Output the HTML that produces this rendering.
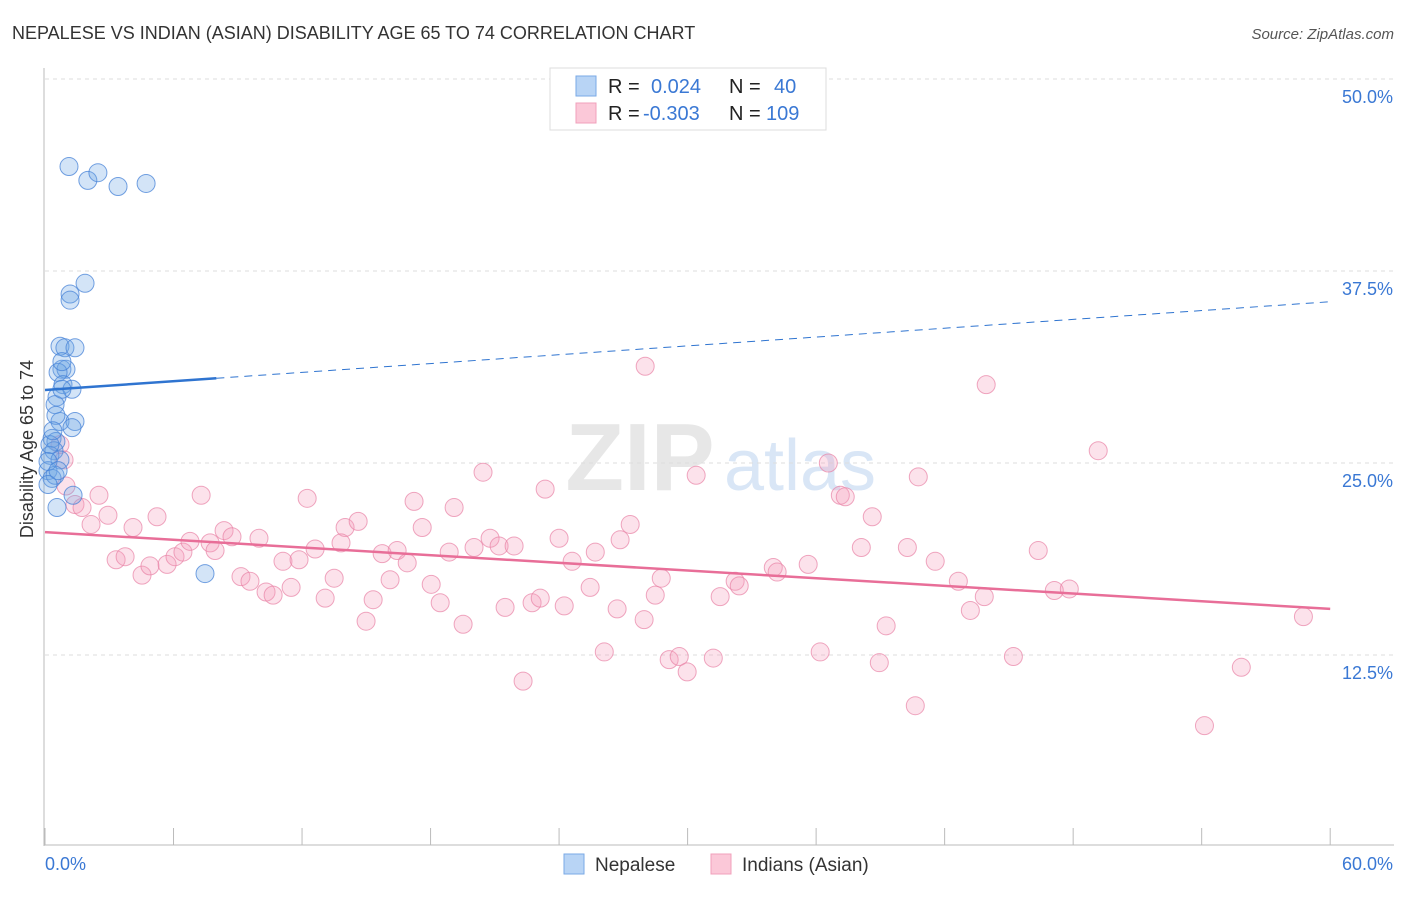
<!DOCTYPE html>
<html><head><meta charset="utf-8">
<style>
body{margin:0;background:#fff;font-family:"Liberation Sans",sans-serif;}
svg text{font-family:"Liberation Sans",sans-serif;}
</style></head>
<body>
<svg id="chart" width="1406" height="892" xmlns="http://www.w3.org/2000/svg">
<text x="12" y="39" font-size="18" fill="#333">NEPALESE VS INDIAN (ASIAN) DISABILITY AGE 65 TO 74 CORRELATION CHART</text>
<text x="1394" y="39" font-size="15" fill="#555" text-anchor="end" font-style="italic">Source: ZipAtlas.com</text>
<text x="640" y="490" font-size="96" fill="#ddd" font-family="Liberation Serif" text-anchor="middle" font-weight="bold" opacity="0.7">ZIP</text>
<text x="800" y="490" font-size="72" fill="#c9dcf3" text-anchor="middle" opacity="0.7">atlas</text>
<g id="grid"></g>
<g id="axes"></g>
<g id="marks"></g>
<text x="40" y="456" font-size="18" fill="#333" text-anchor="middle" transform="rotate(-90 33 456)">Disability Age 65 to 74</text>
<g>
<rect x="550" y="68" width="276" height="62" fill="#fff" stroke="#ddd"/>
<rect x="576" y="76" width="20" height="20" fill="#b8d4f5" stroke="#7aaae6"/>
<rect x="576" y="103" width="20" height="20" fill="#fbc8d8" stroke="#f0a0bb"/>
<text x="608" y="93" font-size="20" fill="#222">R = </text><text x="651" y="93" font-size="20" fill="#3a78d4">0.024</text>
<text x="729" y="93" font-size="20" fill="#222">N = </text><text x="774" y="93" font-size="20" fill="#3a78d4">40</text>
<text x="608" y="120" font-size="20" fill="#222">R = </text><text x="643" y="120" font-size="20" fill="#3a78d4">-0.303</text>
<text x="729" y="120" font-size="20" fill="#222">N = </text><text x="766" y="120" font-size="20" fill="#3a78d4">109</text>
</g>
<g>
<rect x="564" y="854" width="20" height="20" fill="#b8d4f5" stroke="#7aaae6"/>
<text x="595" y="871" font-size="19" fill="#333">Nepalese</text>
<rect x="711" y="854" width="20" height="20" fill="#fbc8d8" stroke="#f0a0bb"/>
<text x="742" y="871" font-size="19" fill="#333">Indians (Asian)</text>
</g>
</svg>
<script>
const yTicks=[12.5,25,37.5,50];
const yTickLabels=["12.5%","25.0%","37.5%","50.0%"];
const xTickLabels=["0.0%","60.0%"];
const blueX=[1.12,2.0,2.47,3.41,4.72,1.87,1.17,1.17,0.70,0.93,1.40,0.79,0.98,0.61,0.79,0.84,1.26,0.56,0.47,0.70,1.40,1.26,0.33,0.51,0.42,0.23,0.70,0.14,0.33,0.47,0.14,1.31,0.56,7.47,0.23,0.51,0.14,0.37,0.61,0.79];
const blueY=[44.3,43.4,43.9,43.0,43.2,36.7,36.0,35.6,32.6,32.5,32.5,31.1,31.1,30.9,31.6,30.1,29.8,29.3,28.8,27.7,27.7,27.3,26.6,26.4,25.8,25.5,25.2,24.5,24.0,24.2,23.6,22.9,22.1,17.8,26.2,28.1,25.1,27.1,24.5,29.8];
const pinkX=[0.98,0.89,0.70,1.40,1.73,2.52,2.15,2.94,3.32,3.74,4.11,4.53,4.90,5.23,5.70,6.07,6.44,6.77,7.29,7.71,7.94,8.36,8.73,9.15,9.57,9.99,10.32,10.65,11.11,11.49,11.86,12.24,12.61,13.08,13.50,14.01,13.82,14.62,14.99,15.32,15.74,16.11,16.44,16.91,17.23,17.61,18.03,18.45,18.87,19.10,19.52,20.03,20.45,20.78,21.20,21.48,21.90,22.32,22.74,23.12,23.35,24.00,24.24,24.61,25.45,25.69,26.11,26.71,26.85,27.32,27.97,28.02,28.49,28.77,29.14,29.61,29.98,30.40,31.20,31.52,32.22,32.41,34.00,34.18,35.63,36.19,36.57,37.13,37.36,38.62,38.11,38.95,39.27,40.26,40.63,40.77,41.56,42.64,43.20,43.85,43.94,45.21,46.37,47.12,47.82,49.17,55.85,54.13,58.75];
const pinkY=[23.5,25.2,26.2,22.3,22.1,22.9,21.0,21.6,18.7,18.9,20.8,17.7,18.3,21.5,18.4,18.9,19.2,19.9,22.9,19.8,19.3,20.6,20.2,17.6,17.3,20.1,16.6,16.4,18.6,16.9,18.7,22.7,19.4,16.2,17.5,20.8,19.8,21.2,14.7,16.1,19.1,17.4,19.3,18.5,22.5,20.8,17.1,15.9,19.2,22.1,14.5,19.5,24.4,20.1,19.6,15.6,19.6,10.8,15.9,16.2,23.3,20.1,15.7,18.6,16.9,19.2,12.7,15.5,20.0,21.0,14.8,31.3,16.4,17.5,12.2,12.4,11.4,24.2,12.3,16.3,17.3,17.0,18.2,17.9,18.4,12.7,25.0,22.9,22.8,21.5,19.5,12.0,14.4,19.5,9.2,24.1,18.6,17.3,15.4,16.3,30.1,12.4,19.3,16.7,16.8,25.8,11.7,7.9,15.0];
const blueLine=[29.75,35.5];
const pinkLine=[20.5,15.5];
const NS="http://www.w3.org/2000/svg";
const sx=v=>45+v*21.42, sy=v=>847-v*15.36;
function mk(tag,attrs,parent){const e=document.createElementNS(NS,tag);for(const k in attrs)e.setAttribute(k,attrs[k]);document.getElementById(parent).appendChild(e);return e;}
yTicks.forEach((t,i)=>{
 const g=mk('line',{x1:45,x2:1394,y1:sy(t),y2:sy(t),stroke:'#ddd','stroke-dasharray':'4,4'},'grid');
 
 
 const l=mk('text',{x:1393,y:sy(t)+24,'font-size':18,fill:'#3a78d4','text-anchor':'end'},'axes');
 l.textContent=yTickLabels[i];
 
 
});
const ya=mk('line',{x1:44,x2:44,y1:68,y2:846,stroke:'#bbb'},'axes');


const xa=mk('line',{x1:44,x2:1394,y1:845,y2:845,stroke:'#bbb'},'axes');


for(let i=0;i<=10;i++){const t=mk('line',{x1:sx(i*6),x2:sx(i*6),y1:828,y2:845,stroke:'#bbb'},'axes');
 
 }
[[0,45,'start'],[60,1393,'end']].forEach((d,i)=>{const l=mk('text',{x:d[1],y:870,'font-size':18,fill:'#3a78d4','text-anchor':d[2]},'axes');l.textContent=xTickLabels[i];
 
 });
pinkX.forEach((x,i)=>{const c=mk('circle',{cx:sx(x),cy:sy(pinkY[i]),r:9,fill:'rgba(245,160,190,0.3)',stroke:'rgba(232,130,165,0.7)','stroke-width':1},'marks');
 
 });
blueX.forEach((x,i)=>{const c=mk('circle',{cx:sx(x),cy:sy(blueY[i]),r:9,fill:'rgba(110,165,230,0.3)',stroke:'rgba(70,130,215,0.75)','stroke-width':1},'marks');
 
 });
const by=x=>blueLine[0]+(blueLine[1]-blueLine[0])*x/60;
const l1=mk('line',{x1:sx(0),y1:sy(by(0)),x2:sx(8),y2:sy(by(8)),stroke:'#2f74d0','stroke-width':2.5},'marks');


const l2=mk('line',{x1:sx(8),y1:sy(by(8)),x2:sx(60),y2:sy(by(60)),stroke:'#2f74d0','stroke-width':1,'stroke-dasharray':'8,6'},'marks');


const l3=mk('line',{x1:sx(0),y1:sy(pinkLine[0]),x2:sx(60),y2:sy(pinkLine[1]),stroke:'#e86e98','stroke-width':2.5},'marks');


</script>
</body></html>
